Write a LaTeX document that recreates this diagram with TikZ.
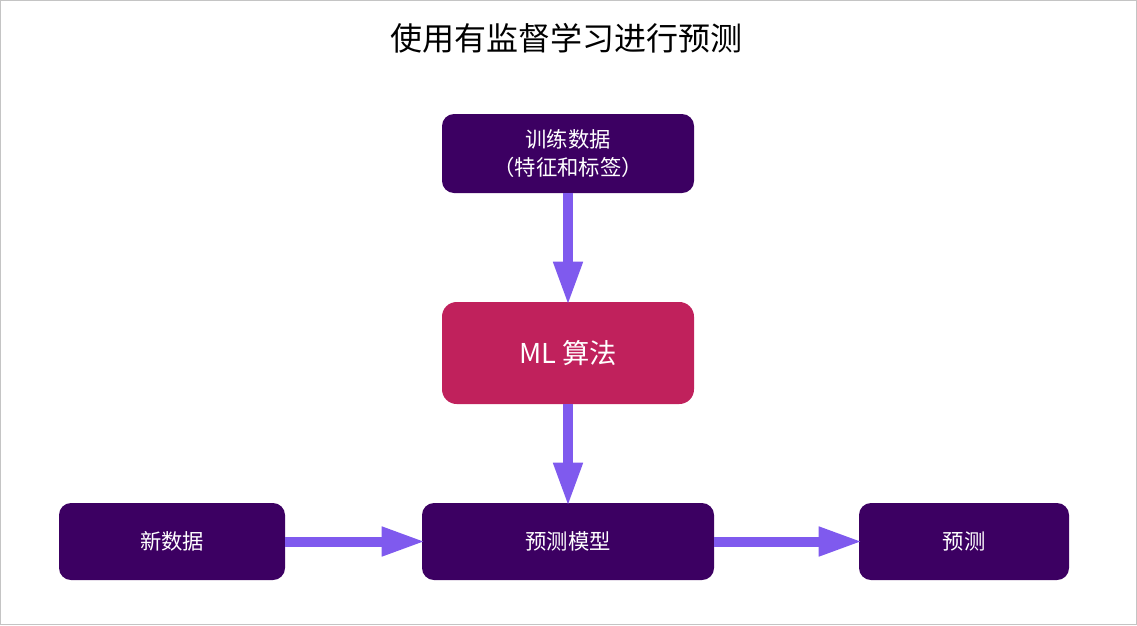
\documentclass[tikz,border=0pt]{standalone}
\usepackage{fontspec}
\setmainfont{Noto Sans CJK SC}
\usetikzlibrary{arrows.meta}
\definecolor{darkpurple}{HTML}{3C0062}
\definecolor{mlred}{HTML}{C0215C}
\definecolor{arrowpurple}{HTML}{7F5AEE}
\definecolor{framegray}{HTML}{C4C4C4}
\begin{document}
\begin{tikzpicture}[x=0.75pt,y=-0.75pt,
  box/.style={fill=darkpurple, text=white, rounded corners=9pt, inner sep=0pt,
    minimum height=57.75pt, font=\fontsize{16}{21}\selectfont, align=center},
  mlbox/.style={fill=mlred, text=white, rounded corners=11pt, inner sep=0pt,
    minimum width=189pt, minimum height=76.5pt, font=\fontsize{20.5}{24}\selectfont},
  flow/.style={draw=arrowpurple, line width=7.5pt, shorten >=-3pt,
    -{Triangle[length=33pt,width=20.25pt]}}]
\useasboundingbox (0,0) rectangle (1137,625);
\draw[framegray, line width=0.75pt] (0.5,0.5) rectangle (1136.5,624.5);
\node (title) at (566,38) {\fontsize{24}{28}\selectfont 使用有监督学习进行预测};
\node[box, minimum width=189pt, minimum height=59.25pt] (train) at (568,153.5) {训练数据\\（特征和标签）};
\node[mlbox] (ml) at (568,353) {ML 算法};
\node[box, minimum width=219pt] (model) at (568,541.5) {预测模型};
\node[box, minimum width=169.5pt] (new) at (172,541.5) {新数据};
\node[box, minimum width=157.5pt] (pred) at (964,541.5) {预测};
\draw[flow] (train) -- (ml);
\draw[flow] (ml) -- (model);
\draw[flow] (new) -- (model);
\draw[flow] (model) -- (pred);
\end{tikzpicture}
\end{document}
